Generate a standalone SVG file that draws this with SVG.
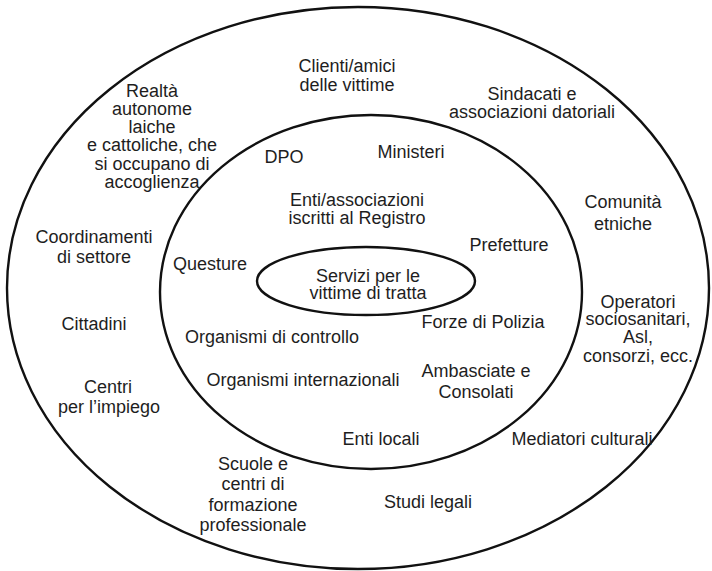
<svg xmlns="http://www.w3.org/2000/svg" width="712" height="571" viewBox="0 0 712 571">
<style>
.ring{fill:none;stroke:#111;stroke-width:2.4}
text{font-family:"Liberation Sans",Arial,sans-serif;font-size:18px;fill:#1e1e1e;text-anchor:middle}
</style>
<rect width="712" height="571" fill="#fff"/>
<g id="rings">
<ellipse id="outer-ring" class="ring" cx="358" cy="288" rx="351" ry="281"/>
<ellipse id="middle-ring" class="ring" cx="371" cy="292" rx="211" ry="177"/>
<ellipse id="inner-ring" class="ring" cx="366" cy="281" rx="109" ry="34"/>
</g>
<g id="servizi"><text x="368" y="282">Servizi per le</text><text x="368" y="299">vittime di tratta</text></g>
<g id="dpo"><text x="284" y="163">DPO</text></g>
<g id="ministeri"><text x="411" y="158">Ministeri</text></g>
<g id="enti-associazioni"><text x="357" y="206">Enti/associazioni</text><text x="357" y="224">iscritti al Registro</text></g>
<g id="prefetture"><text x="509" y="251">Prefetture</text></g>
<g id="questure"><text x="210" y="270">Questure</text></g>
<g id="organismi-controllo"><text x="272" y="343">Organismi di controllo</text></g>
<g id="forze-polizia"><text x="483" y="328">Forze di Polizia</text></g>
<g id="organismi-internazionali"><text x="303" y="386">Organismi internazionali</text></g>
<g id="ambasciate"><text x="476" y="377">Ambasciate e</text><text x="476" y="398">Consolati</text></g>
<g id="enti-locali"><text x="381" y="445">Enti locali</text></g>
<g id="realta"><text x="152" y="97">Realtà</text><text x="152" y="115">autonome</text><text x="152" y="133">laiche</text><text x="152" y="151">e cattoliche, che</text><text x="152" y="170">si occupano di</text><text x="152" y="188">accoglienza</text></g>
<g id="clienti"><text x="347" y="72">Clienti/amici</text><text x="347" y="91">delle vittime</text></g>
<g id="sindacati"><text x="532" y="100">Sindacati e</text><text x="532" y="118">associazioni datoriali</text></g>
<g id="comunita"><text x="623" y="208">Comunità</text><text x="623" y="230">etniche</text></g>
<g id="coordinamenti"><text x="94" y="243">Coordinamenti</text><text x="94" y="263">di settore</text></g>
<g id="operatori"><text x="638" y="308">Operatori</text><text x="638" y="325">sociosanitari,</text><text x="638" y="343">Asl,</text><text x="638" y="362">consorzi, ecc.</text></g>
<g id="cittadini"><text x="94" y="330">Cittadini</text></g>
<g id="centri-impiego"><text x="108" y="393">Centri</text><text x="109" y="413">per l’impiego</text></g>
<g id="mediatori"><text x="582" y="445">Mediatori culturali</text></g>
<g id="scuole"><text x="253" y="470">Scuole e</text><text x="253" y="490">centri di</text><text x="253" y="511">formazione</text><text x="253" y="531">professionale</text></g>
<g id="studi-legali"><text x="428" y="508">Studi legali</text></g>
</svg>
